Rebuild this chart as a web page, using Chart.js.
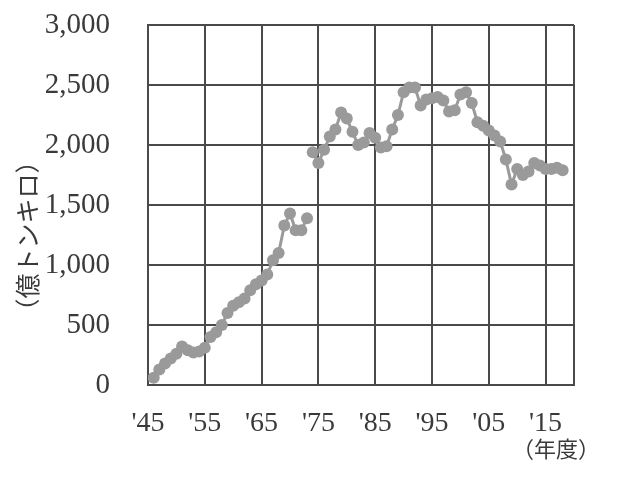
<!DOCTYPE html>
<html lang="ja">
<head>
  <meta charset="UTF-8" />
  <title>内航貨物輸送量</title>
  <script src="https://cdn.jsdelivr.net/npm/chart.js"></script>
  <style>
    body { margin: 0; background: #fff; }
    #wrap { width: 629px; height: 486px; }
  </style>
</head>
<body>
  <div id="wrap"><canvas id="freightChart" width="629" height="486"></canvas></div>

  <script>
    // fiscal years and values (億トンキロ), series break between '73 and '74
    const yearsOld = [1946, 1947, 1948, 1949, 1950, 1951, 1952, 1953, 1954, 1955,
      1956, 1957, 1958, 1959, 1960, 1961, 1962, 1963, 1964, 1965,
      1966, 1967, 1968, 1969, 1970, 1971, 1972, 1973];
    const valuesOld = [60, 130, 180, 220, 260, 320, 290, 270, 280, 310,
      400, 440, 500, 600, 660, 690, 720, 790, 840, 870,
      920, 1040, 1100, 1330, 1430, 1290, 1290, 1390];

    const yearsNew = [1974, 1975, 1976, 1977, 1978, 1979, 1980, 1981, 1982, 1983,
      1984, 1985, 1986, 1987, 1988, 1989, 1990, 1991, 1992, 1993,
      1994, 1995, 1996, 1997, 1998, 1999, 2000, 2001, 2002, 2003,
      2004, 2005, 2006, 2007, 2008, 2009, 2010, 2011, 2012, 2013,
      2014, 2015, 2016, 2017, 2018];
    const valuesNew = [1940, 1850, 1960, 2070, 2130, 2270, 2220, 2110, 2000, 2020,
      2100, 2060, 1980, 1990, 2130, 2250, 2440, 2480, 2480, 2330,
      2380, 2390, 2400, 2370, 2280, 2290, 2420, 2440, 2350, 2190,
      2160, 2120, 2080, 2030, 1880, 1670, 1800, 1750, 1780, 1850,
      1830, 1800, 1800, 1810, 1790];

    const xTicks = [1945, 1955, 1965, 1975, 1985, 1995, 2005, 2015, 2020];
    const yTicks = [0, 500, 1000, 1500, 2000, 2500, 3000];

    const yTitle = '（億トンキロ）';
    const xTitle = '（年度）';

    const grey = '#9a9a9a';
    const gridColor = '#4a4a4a';
    const textColor = '#3a3a3a';
    const serif = '"Liberation Serif", "DejaVu Serif", serif';

    function toPoints(xs, ys) {
      return xs.map((x, i) => ({ x: x, y: ys[i] }));
    }

    const axisTitles = {
      id: 'axisTitles',
      afterDraw(chart) {
        const ctx = chart.ctx;
        ctx.save();
        ctx.fillStyle = textColor;
        ctx.font = '25px "Noto Sans CJK JP"';
        ctx.textAlign = 'center';
        ctx.textBaseline = 'middle';
        ctx.translate(27, 236);
        ctx.rotate(-Math.PI / 2);
        ctx.fillText(yTitle, 0, 0);
        ctx.restore();

        ctx.save();
        ctx.fillStyle = textColor;
        ctx.font = '22px "Noto Sans CJK JP"';
        ctx.textAlign = 'center';
        ctx.textBaseline = 'middle';
        ctx.fillText(xTitle, 556, 449);
        ctx.restore();
      }
    };

    const lineStyle = {
      borderColor: grey,
      borderWidth: 3,
      pointRadius: 6,
      pointBackgroundColor: grey,
      pointBorderWidth: 0,
      pointHoverRadius: 6,
      tension: 0
    };

    new Chart(document.getElementById('freightChart'), {
      type: 'line',
      data: {
        datasets: [
          Object.assign({ label: 'old', data: toPoints(yearsOld, valuesOld) }, lineStyle),
          Object.assign({ label: 'new', data: toPoints(yearsNew, valuesNew) }, lineStyle)
        ]
      },
      options: {
        responsive: false,
        animation: false,
        layout: { padding: { left: 0, top: 25, right: 55, bottom: 0 } },
        plugins: {
          legend: { display: false },
          tooltip: { enabled: false }
        },
        scales: {
          x: {
            type: 'linear',
            min: 1945,
            max: 2020,
            afterBuildTicks: s => { s.ticks = xTicks.map(v => ({ value: v })); },
            afterFit: s => { s.height = 101; s.paddingLeft = 0; s.paddingRight = 0; },
            grid: { color: gridColor, lineWidth: 2, drawTicks: false },
            border: { color: gridColor, width: 2 },
            ticks: {
              padding: 22,
              color: textColor,
              font: { family: serif, size: 28 },
              maxRotation: 0,
              autoSkip: false,
              callback: v => (v === 2020 ? '' : "'" + String(v).slice(2))
            }
          },
          y: {
            min: 0,
            max: 3000,
            afterBuildTicks: s => { s.ticks = yTicks.map(v => ({ value: v })); },
            afterFit: s => { s.width = 148; s.paddingTop = 0; s.paddingBottom = 0; },
            grid: { color: gridColor, lineWidth: 2, drawTicks: false },
            border: { color: gridColor, width: 2 },
            ticks: {
              padding: 38,
              color: textColor,
              font: { family: serif, size: 29 },
              callback: v => v.toLocaleString('en-US')
            }
          }
        }
      },
      plugins: [axisTitles]
    });
  </script>
</body>
</html>
